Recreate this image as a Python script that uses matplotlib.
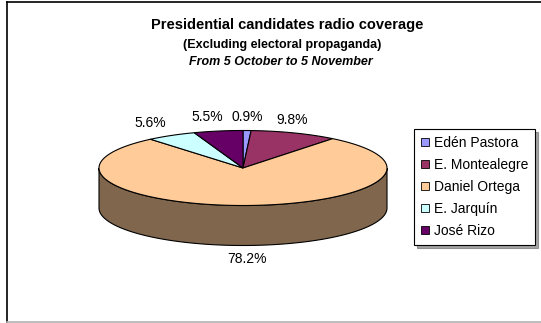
import numpy as np
import matplotlib.pyplot as plt
from matplotlib.patches import Polygon, Patch
from matplotlib.lines import Line2D

candidates = ['Edén Pastora', 'E. Montealegre', 'Daniel Ortega', 'E. Jarquín', 'José Rizo']
shares = [0.9, 9.8, 78.2, 5.6, 5.5]
colors = ['#9999FF', '#993366', '#FFCC99', '#CCFFFF', '#660066']

plt.rcParams['font.family'] = ['Liberation Sans', 'DejaVu Sans']

fig = plt.figure(figsize=(5.41, 3.23), dpi=100)
ax = fig.add_axes([0, 0, 1, 1])
ax.set_xlim(0, 541)
ax.set_ylim(323, 0)
ax.axis('off')

# pie geometry (pixels)
cx, cy = 243, 168
rx, ry = 144, 37.5
depth = 40


def ell(t):
    return cx + rx * np.cos(t), cy - ry * np.sin(t)


def darker(c, f=0.5):
    r, g, b = plt.matplotlib.colors.to_rgb(c)
    return (r * f, g * f, b * f)


total = sum(shares)
starts = []
a = 90.0
for s in shares:
    starts.append(a)
    a -= s / total * 360.0

# side walls (front half only)
for a0, s, c in zip(starts, shares, colors):
    a1 = a0 - s / total * 360.0
    for k in range(-2, 2):
        lo = max(a1, -180 + 360 * k)
        hi = min(a0, 0 + 360 * k)
        if hi <= lo:
            continue
        t = np.radians(np.linspace(lo, hi, 120))
        xs, ys = ell(t)
        pts = list(zip(xs, ys)) + list(zip(xs[::-1], ys[::-1] + depth))
        ax.add_patch(Polygon(pts, closed=True, facecolor=darker(c), edgecolor='black', lw=0.8))

# top faces
for a0, s, c in zip(starts, shares, colors):
    a1 = a0 - s / total * 360.0
    t = np.radians(np.linspace(a0, a1, max(8, int(s * 4))))
    xs, ys = ell(t)
    pts = [(cx, cy)] + list(zip(xs, ys))
    ax.add_patch(Polygon(pts, closed=True, facecolor=c, edgecolor='black', lw=0.8))

# percentage labels (small horizontal nudges like Excel's placement)
nudge = [0, -7, 2, -14, -9]
for a0, s, dx in zip(starts, shares, nudge):
    m = np.radians(a0 - s / total * 180.0)
    lx = cx + (rx + 14) * np.cos(m) + dx
    ly = cy - (ry + 14) * np.sin(m)
    if np.sin(m) < 0:
        ly += depth
    ax.text(lx, ly, f'{s:.1f}%', ha='center', va='center', fontsize=10)

# titles
ax.text(287, 25, 'Presidential candidates radio coverage', ha='center', va='center',
        fontsize=10.5, fontweight='bold')
ax.text(282, 45, '(Excluding electoral propaganda)', ha='center', va='center',
        fontsize=9, fontweight='bold')
ax.text(281, 62, 'From 5 October to 5 November', ha='center', va='center',
        fontsize=9, fontweight='bold', fontstyle='italic')

# legend
handles = [Patch(facecolor=c, edgecolor='black', lw=0.6) for c in colors]
leg = fig.legend(handles, candidates, loc='upper left', bbox_to_anchor=(414 / 541, 1 - 129 / 323),
                 fontsize=10, frameon=True, fancybox=False, shadow=True, edgecolor='black',
                 handlelength=0.55, handleheight=0.55, handletextpad=0.4, labelspacing=0.58,
                 borderpad=0.5, borderaxespad=0)
leg.get_frame().set_linewidth(0.8)

# chart area border
ax.add_line(Line2D([6.5, 6.5], [1.5, 322], color='black', lw=1.2))
ax.add_line(Line2D([6.5, 541], [1.5, 1.5], color='black', lw=1.2))
ax.add_line(Line2D([6.5, 541], [322, 322], color='#b0b0b0', lw=1.2))

fig.savefig('out.png', dpi=100)
